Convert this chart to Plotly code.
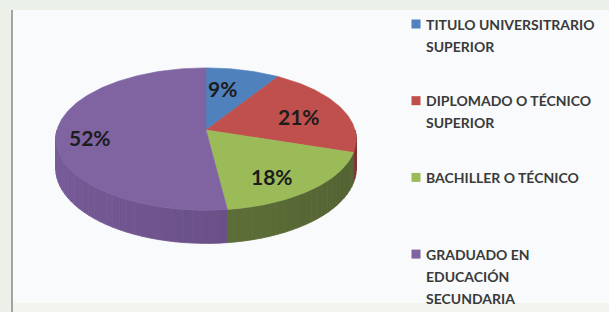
import numpy as np
import plotly.graph_objects as go

# ---- data ----
categories = ["TITULO UNIVERSITRARIO<br>SUPERIOR",
              "DIPLOMADO O TÉCNICO<br>SUPERIOR",
              "BACHILLER O TÉCNICO",
              "GRADUADO EN<br>EDUCACIÓN<br>SECUNDARIA"]
values = [9, 21, 18, 52]

# ---- style ----
top_colors = ["#4f81bd", "#c0504d", "#9bbb59", "#8064a2"]
side_colors = ["#3d6491", "#8f3b39", "#5f7039", "#6b5189"]
label_fx = [0.39, 0.66, 0.70, 0.78]
label_fy = [0.70, 0.62, 0.76, 1.40]

W, H = 609, 312
VX, VY = 206, 130          # pie vertex on screen
B, A, K, D = 149, 70, 0.127, 29   # half-width, half-height, perspective, depth


def proj(theta_deg, r=1.0, depth=0.0):
    t = np.radians(theta_deg)
    u = r * np.sin(t)
    v = r * np.cos(t)
    s = 1 + K * v
    return VX + B * u / s, VY - A * v / s + depth / s


def shade(hexcol, f):
    h = hexcol.lstrip("#")
    rgb = [int(h[i:i + 2], 16) for i in (0, 2, 4)]
    rgb = [max(0, min(255, int(round(c * f)))) for c in rgb]
    return "rgb(%d,%d,%d)" % tuple(rgb)


total = float(sum(values))
fr = [v / total for v in values]
ends = np.cumsum(fr) * 360.0
starts = np.concatenate([[0.0], ends[:-1]])

fig = go.Figure()

# side walls (front half only), drawn as shaded strips
for i in range(len(values)):
    a0, a1 = max(starts[i], 90.0), min(ends[i], 270.0)
    if a1 <= a0:
        continue
    n = max(1, int(np.ceil((a1 - a0) / 3.0)))
    edges = np.linspace(a0, a1, n + 1)
    for j in range(n):
        t0, t1 = edges[j], edges[j + 1]
        ts = np.linspace(t0, t1, 4)
        xt, yt = proj(ts)
        xb, yb = proj(ts[::-1], depth=D)
        xs = np.concatenate([xt, xb, xt[:1]])
        ys = np.concatenate([yt, yb, yt[:1]])
        mid = np.radians((t0 + t1) / 2)
        col = shade(side_colors[i], 1 - 0.12 * np.sin(mid))
        fig.add_trace(go.Scatter(x=xs, y=ys, mode="lines", fill="toself",
                                 fillcolor=col, line=dict(color=col, width=0.8),
                                 hoverinfo="skip", showlegend=False))

# top faces
for i in range(len(values)):
    ts = np.linspace(starts[i], ends[i], max(8, int(fr[i] * 360)))
    xa, ya = proj(ts)
    xs = np.concatenate([[VX], xa, [VX]])
    ys = np.concatenate([[VY], ya, [VY]])
    fig.add_trace(go.Scatter(x=xs, y=ys, mode="lines", fill="toself",
                             fillcolor=top_colors[i],
                             line=dict(color=top_colors[i], width=0.6),
                             name=categories[i].replace("<br>", " "),
                             hoverinfo="name", showlegend=False))

# percentage labels
for i in range(len(values)):
    mid = np.radians((starts[i] + ends[i]) / 2)
    u, v = np.sin(mid), np.cos(mid)
    lx = VX + B * label_fx[i] * u
    ly = VY - (62 if v > 0 else 80) * label_fy[i] * v
    fig.add_annotation(x=lx, y=ly, text="%d%%" % round(fr[i] * 100),
                       showarrow=False, xanchor="center", yanchor="middle",
                       font=dict(family="Lato", size=21, color="#1c1c1c", weight="bold"))

# manual legend
LEG_X, LEG_Y0, LEG_STEP, LINE_H = 416, 24, 76.7, 22
fig.add_trace(go.Scatter(
    x=[LEG_X] * len(values),
    y=[LEG_Y0 + i * LEG_STEP for i in range(len(values))],
    mode="markers", marker=dict(symbol="square", size=9, color=top_colors),
    hoverinfo="skip", showlegend=False))
for i, cat in enumerate(categories):
    for j, line in enumerate(cat.split("<br>")):
        fig.add_annotation(x=LEG_X + 8, y=LEG_Y0 + i * LEG_STEP + j * LINE_H,
                           text=line, showarrow=False, xanchor="left", yanchor="middle",
                           font=dict(family="Lato", size=14, color="#3a3a3a", weight="bold"))

fig.update_layout(
    width=W, height=H, margin=dict(l=0, r=0, t=0, b=0),
    paper_bgcolor="#ebf1e9", plot_bgcolor="rgba(0,0,0,0)",
    xaxis=dict(range=[0, W], visible=False, fixedrange=True),
    yaxis=dict(range=[H, 0], visible=False, fixedrange=True),
    showlegend=False,
    shapes=[
        dict(type="rect", xref="x", yref="y", x0=13, x1=W, y0=10, y1=303,
             fillcolor="#f8fafb", line=dict(width=0), layer="below"),
        dict(type="rect", xref="x", yref="y", x0=13, x1=W, y0=303, y1=H,
             fillcolor="#f3f4ee", line=dict(width=0), layer="below"),
        dict(type="line", xref="x", yref="y", x0=12, x1=12, y0=10, y1=H,
             line=dict(color="#a3a3a3", width=2), layer="below"),
    ],
)

fig.write_html("out.html", config={"displayModeBar": False},
               post_script="document.body.style.margin='0';document.body.style.overflow='hidden';")
